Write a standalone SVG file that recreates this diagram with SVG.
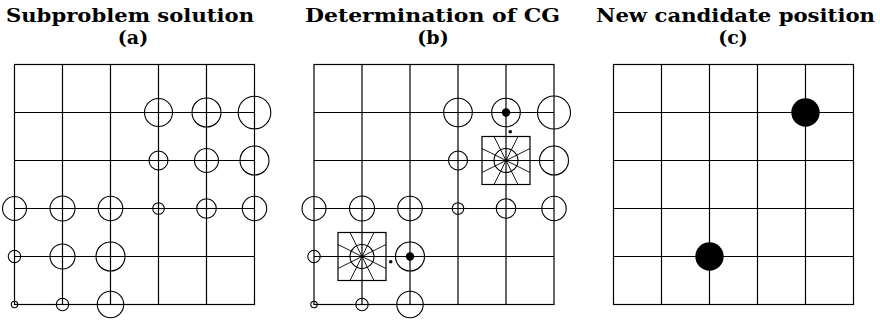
<svg xmlns="http://www.w3.org/2000/svg" width="880" height="321" viewBox="0 0 880 321">
<defs>
<style>
.grid{fill:none;stroke:#000;stroke-width:1.2}
.c{fill:none;stroke:#000;stroke-width:1.1}
.dot{fill:#000;stroke:none}
.ray{stroke:#000;stroke-width:0.9;fill:none}
.t{font-family:"DejaVu Serif","Liberation Serif",serif;font-weight:bold;font-size:19px;fill:#000;text-anchor:middle}
</style>
<g id="gridpat">
<rect class="grid" x="0" y="0" width="240" height="240"/>
<path class="grid" d="M48 0V240M96 0V240M144 0V240M192 0V240M0 48H240M0 96H240M0 144H240M0 192H240"/>
</g>
<g id="star">
<rect class="grid" x="-24" y="-24" width="48" height="48"/>
<circle class="c" r="12"/>
<path class="ray" d="M0 0L24 12M0 0L24 -12M0 0L-24 12M0 0L-24 -12M0 0L12 24M0 0L-12 24M0 0L12 -24M0 0L-12 -24"/>
<circle class="dot" r="1.6"/>
</g>
</defs>

<g id="titles">
<text class="t" x="130" y="21.5" textLength="248" lengthAdjust="spacingAndGlyphs">Subproblem solution</text>
<text class="t" x="133" y="44">(a)</text>
<text class="t" x="432.5" y="21.5" textLength="255" lengthAdjust="spacingAndGlyphs">Determination of CG</text>
<text class="t" x="433" y="44">(b)</text>
<text class="t" x="735.5" y="21.5" textLength="279" lengthAdjust="spacingAndGlyphs">New candidate position</text>
<text class="t" x="733" y="44">(c)</text>
</g>

<g id="panel-a" transform="translate(14.5,64.5)">
<use href="#gridpat"/>
<circle class="c" cx="144" cy="48" r="14"/>
<circle class="c" cx="192" cy="48" r="14.5"/>
<circle class="c" cx="240" cy="48" r="16.3"/>
<circle class="c" cx="144" cy="96" r="9.5"/>
<circle class="c" cx="192" cy="96" r="12"/>
<circle class="c" cx="240" cy="96" r="14.5"/>
<circle class="c" cx="0" cy="144" r="12"/>
<circle class="c" cx="48" cy="144" r="12.5"/>
<circle class="c" cx="96" cy="144" r="12.3"/>
<circle class="c" cx="144" cy="144" r="5.8"/>
<circle class="c" cx="192" cy="144" r="9.8"/>
<circle class="c" cx="240" cy="144" r="12.2"/>
<circle class="c" cx="0" cy="192" r="6.2"/>
<circle class="c" cx="48" cy="192" r="12.5"/>
<circle class="c" cx="96" cy="192" r="14.5"/>
<circle class="c" cx="0" cy="240" r="3.2"/>
<circle class="c" cx="48" cy="240" r="6.2"/>
<circle class="c" cx="96" cy="240" r="13.2"/>
</g>

<g id="panel-b" transform="translate(314,64.5)">
<use href="#gridpat"/>
<circle class="c" cx="144" cy="48" r="14.3"/>
<g id="b-hit1">
<circle class="c" cx="192" cy="48" r="14.3"/>
<circle class="dot" cx="192" cy="48" r="4.2"/>
</g>
<circle class="c" cx="240" cy="48" r="16.5"/>
<circle class="c" cx="144" cy="96" r="9.5"/>
<use id="b-star1" href="#star" x="192" y="96"/>
<circle class="c" cx="240" cy="96" r="14.5"/>
<circle class="c" cx="0" cy="144" r="12"/>
<circle class="c" cx="48" cy="144" r="12.5"/>
<circle class="c" cx="96" cy="144" r="12.3"/>
<circle class="c" cx="144" cy="144" r="5.8"/>
<circle class="c" cx="192" cy="144" r="9.8"/>
<circle class="c" cx="240" cy="144" r="12.2"/>
<circle class="c" cx="0" cy="192" r="6.2"/>
<use id="b-star2" href="#star" x="48" y="192"/>
<g id="b-hit2">
<circle class="c" cx="96" cy="192" r="14.5"/>
<circle class="dot" cx="96" cy="192" r="4.2"/>
</g>
<circle class="c" cx="0" cy="240" r="3.2"/>
<circle class="c" cx="48" cy="240" r="6.2"/>
<circle class="c" cx="96" cy="240" r="13.2"/>
<circle id="b-cg1" class="dot" cx="196.3" cy="67.2" r="1.8"/>
<circle id="b-cg2" class="dot" cx="76.7" cy="197.2" r="1.8"/>
</g>

<g id="panel-c" transform="translate(613.5,64.5)">
<use href="#gridpat"/>
<circle id="c-pos1" class="dot" cx="192" cy="48" r="14.2"/>
<circle id="c-pos2" class="dot" cx="96" cy="192" r="14.2"/>
</g>
</svg>
